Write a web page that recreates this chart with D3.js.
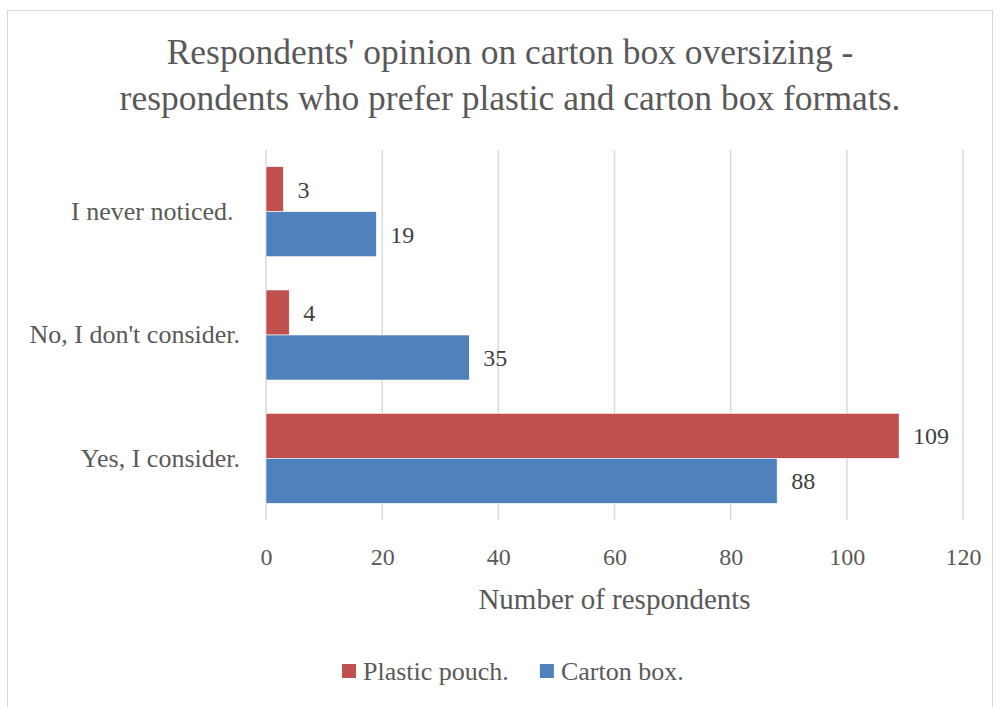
<!DOCTYPE html>
<html>
<head>
<meta charset="utf-8">
<script src="https://cdn.jsdelivr.net/npm/d3@7"></script>
<style>
  html, body { margin: 0; padding: 0; background: #fff; }
  svg { display: block; }
  text { font-family: "Liberation Serif", "DejaVu Serif", serif; white-space: pre; }
</style>
</head>
<body>
<svg id="chart" width="1000" height="707"></svg>
<script>
// Survey answers (top to bottom) and respondent counts per preferred format
const categories = ["I never noticed. ", "No, I don't consider.", "Yes, I consider."];
const seriesNames = ["Plastic pouch.", "Carton box."];
const plasticPouch = [3, 4, 109];
const cartonBox = [19, 35, 88];
const xTicks = [0, 20, 40, 60, 80, 100, 120];
const titleLines = ["Respondents' opinion on carton box oversizing -",
                    "respondents who prefer plastic and carton box formats."];
const axisTitle = "Number of respondents";

const colors = ["#C0504D", "#4F81BD"];
const seriesValues = [plasticPouch, cartonBox];

const svg = d3.select("#chart");
const W = 1000, H = 707;

// chart frame
svg.append("rect")
  .attr("x", 7.5).attr("y", 10.5)
  .attr("width", W - 15).attr("height", H - 5)
  .attr("fill", "#fff").attr("stroke", "#d9d9d9").attr("stroke-width", 1);

const plot = { left: 266, right: 963, top: 150, bottom: 520 };

const x = d3.scaleLinear().domain([0, 120]).range([plot.left, plot.right]);
const y = d3.scaleBand().domain(categories).range([plot.top, plot.bottom]).paddingInner(0.27).paddingOuter(0.135);
const ySub = d3.scaleBand().domain(seriesNames).range([0, y.bandwidth()]);

// title
const title = svg.append("text")
  .attr("text-anchor", "middle")
  .attr("fill", "#595959")
  .attr("font-size", 35.5);
titleLines.forEach((line, i) => {
  title.append("tspan").attr("x", 510).attr("y", 64 + i * 46).text(line);
});

// vertical gridlines
svg.append("g")
  .selectAll("line")
  .data(xTicks)
  .join("line")
  .attr("x1", d => x(d)).attr("x2", d => x(d))
  .attr("y1", plot.top).attr("y2", plot.bottom)
  .attr("stroke", "#d9d9d9").attr("stroke-width", 1.5);

// x axis tick labels
const xAxis = d3.axisBottom(x).tickValues(xTicks).tickSize(0).tickPadding(0);
const gx = svg.append("g")
  .attr("transform", `translate(0,${plot.bottom + 28})`)
  .call(xAxis);
gx.select(".domain").remove();
gx.selectAll("text")
  .attr("font-family", "Liberation Serif, serif")
  .attr("font-size", 24)
  .attr("fill", "#595959");

// y axis category labels
const yAxis = d3.axisLeft(y).tickSize(0).tickPadding(0);
const gy = svg.append("g")
  .attr("transform", `translate(${plot.left - 26},0)`)
  .call(yAxis);
gy.select(".domain").remove();
gy.selectAll("text")
  .attr("font-family", "Liberation Serif, serif")
  .attr("font-size", 26)
  .attr("fill", "#595959");

// bars
const groups = svg.append("g")
  .selectAll("g")
  .data(categories)
  .join("g")
  .attr("transform", d => `translate(0,${y(d)})`);

const cells = groups.selectAll("g.cell")
  .data((c, ci) => seriesNames.map((s, si) => ({ cat: c, series: s, si, value: seriesValues[si][ci] })))
  .join("g").attr("class", "cell");

cells.append("rect")
  .attr("x", x(0))
  .attr("y", d => ySub(d.series))
  .attr("width", d => x(d.value) - x(0))
  .attr("height", ySub.bandwidth())
  .attr("fill", d => colors[d.si])
  .attr("stroke", "#fff").attr("stroke-width", 0.6);

// value labels
cells.append("text")
  .attr("x", d => x(d.value) + 14)
  .attr("y", d => ySub(d.series) + ySub.bandwidth() / 2)
  .attr("dy", "0.35em")
  .attr("font-size", 24)
  .attr("fill", "#404040")
  .text(d => d.value);

// axis title
svg.append("text")
  .attr("x", (plot.left + plot.right) / 2)
  .attr("y", 609)
  .attr("text-anchor", "middle")
  .attr("font-size", 29)
  .attr("fill", "#595959")
  .text(axisTitle);

// legend
const legend = svg.append("g").attr("transform", "translate(342,680)");
let lx = 0;
seriesNames.forEach((name, i) => {
  const g = legend.append("g").attr("transform", `translate(${lx},0)`);
  g.append("rect").attr("x", 0).attr("y", -16).attr("width", 14).attr("height", 14).attr("fill", colors[i]);
  const t = g.append("text").attr("x", 21).attr("y", 0).attr("font-size", 26).attr("fill", "#595959").text(name);
  lx += 21 + t.node().getComputedTextLength() + 31;
});
</script>
</body>
</html>
